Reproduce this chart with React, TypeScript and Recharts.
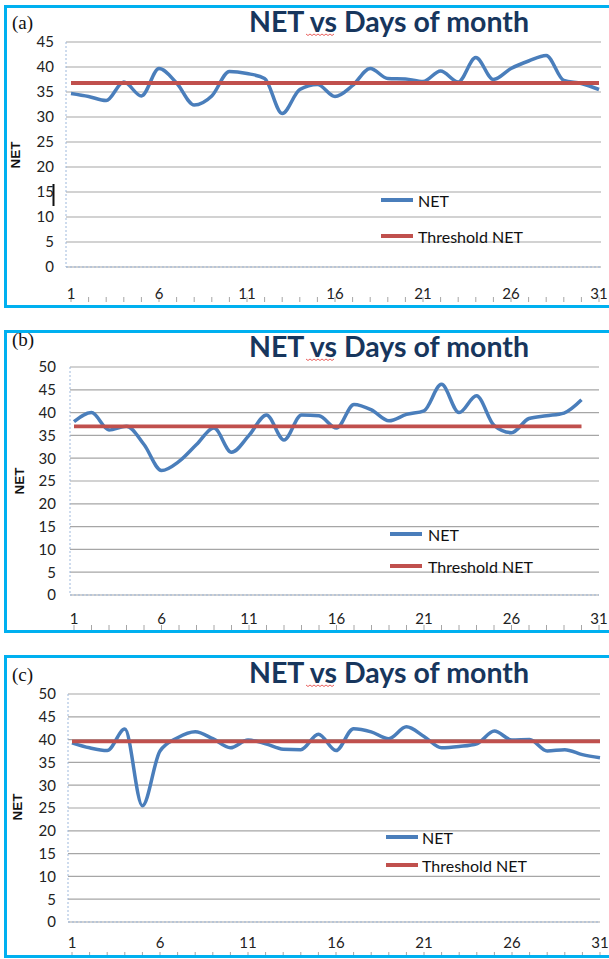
import { LineChart, Line, XAxis, YAxis, CartesianGrid, Legend } from "recharts";

// days of the month (x categories) and the labelled ones
const days = [1, 2, 3, 4, 5, 6, 7, 8, 9, 10, 11, 12, 13, 14, 15, 16, 17, 18, 19, 20, 21, 22, 23, 24, 25, 26, 27, 28, 29, 30, 31];
const labelDays = [1, 6, 11, 16, 21, 26, 31];
const ticks45 = [0, 5, 10, 15, 20, 25, 30, 35, 40, 45];
const ticks50 = [0, 5, 10, 15, 20, 25, 30, 35, 40, 45, 50];

// (a)
const netA = [34.7, 34.1, 33.3, 37.0, 34.2, 39.7, 36.8, 32.4, 34.2, 39.1, 38.7, 37.7, 30.7, 35.5, 36.5, 34.1, 36.3, 39.7, 37.7, 37.6, 37.1, 39.2, 37.0, 41.9, 37.5, 39.7, 41.2, 42.3, 37.3, 36.7, 35.5];
const thresholdA = 36.8;

// (b) - only 30 days recorded
const netB = [38.0, 40.0, 36.2, 37.0, 33.0, 27.3, 29.3, 33.0, 36.6, 31.3, 35.0, 39.5, 34.0, 39.5, 39.3, 36.6, 41.8, 40.6, 38.2, 39.6, 40.4, 46.2, 40.0, 43.7, 37.2, 35.6, 38.7, 39.3, 39.9, 42.8];
const thresholdB = 37.0;

// (c)
const netC = [39.3, 38.2, 37.6, 42.3, 25.5, 37.5, 40.4, 41.7, 40.2, 38.2, 39.9, 39.1, 37.9, 37.8, 41.2, 37.6, 42.4, 41.7, 40.2, 42.8, 40.7, 38.2, 38.5, 39.1, 41.9, 39.9, 40.0, 37.5, 37.8, 36.7, 36.0];
const thresholdC = 39.6;

const BLUE = "#4A7EBB";
const RED = "#C0504D";
const GRID = "#a6a6a6";
const FRAME = "#9DB8DC";
const CYAN = "#00B0F0";
const FONT = "Lato, 'Open Sans', sans-serif";

const buildRows = (net: number[], threshold: number) =>
  days.map((day, i) => ({
    day,
    net: i < net.length ? net[i] : null,
    threshold: i < net.length ? threshold : null,
  }));

type PanelProps = {
  top: number;
  height: number;
  data: any[];
  margin: { top: number; right: number; left: number; bottom: number };
  pad: { left: number; right: number };
  yMax: number;
  yTicks: number[];
  yWidth: number;
  yTickMargin: number;
  xTickMargin: number;
  legendLeft: number;
  legendTop: number;
  rowH: number;
  gap: number;
};

function NetPanel(p: PanelProps) {
  const renderLegend = (props: any) => (
    <div>
      {(props.payload || []).map((item: any) => (
        <div key={item.value} style={{ display: "flex", alignItems: "center", height: p.rowH }}>
          <span style={{ display: "inline-block", width: 32, height: 4, background: item.color, marginRight: p.gap }} />
          <span style={{ fontFamily: FONT, fontSize: 16, color: "#111" }}>{item.value}</span>
        </div>
      ))}
    </div>
  );

  return (
    <div style={{ position: "absolute", left: 0, top: p.top }}>
      <LineChart width={609} height={p.height} data={p.data} margin={p.margin}>
        <CartesianGrid xAxisId="ticks" vertical={false} stroke={GRID} strokeWidth={1.2} />
        <XAxis
          xAxisId="ticks"
          dataKey="day"
          type="number"
          domain={[1, 31]}
          ticks={days}
          interval={0}
          padding={p.pad}
          height={5}
          tickSize={5}
          tickLine={{ stroke: GRID }}
          axisLine={false}
          tickFormatter={() => ""}
        />
        <XAxis
          xAxisId="labels"
          dataKey="day"
          type="number"
          domain={[1, 31]}
          ticks={labelDays}
          interval={0}
          padding={p.pad}
          height={30}
          tickSize={0}
          tickMargin={p.xTickMargin}
          axisLine={{ stroke: FRAME, strokeDasharray: "2 2" }}
          tickLine={false}
          tick={{ fontFamily: FONT, fontSize: 15, fill: "#222" }}
        />
        <XAxis
          xAxisId="top"
          orientation="top"
          dataKey="day"
          type="number"
          domain={[1, 31]}
          height={0}
          tick={false}
          tickLine={false}
          axisLine={{ stroke: FRAME }}
        />
        <YAxis
          domain={[0, p.yMax]}
          ticks={p.yTicks}
          interval={0}
          width={p.yWidth}
          tickSize={0}
          tickMargin={p.yTickMargin}
          axisLine={{ stroke: FRAME, strokeDasharray: "2 2" }}
          tickLine={false}
          tick={{ fontFamily: FONT, fontSize: 15, fill: "#222" }}
        />
        <YAxis
          yAxisId="right"
          orientation="right"
          domain={[0, p.yMax]}
          width={0}
          tick={false}
          tickLine={false}
          axisLine={{ stroke: FRAME }}
        />
        <Legend
          layout="vertical"
          align="center"
          verticalAlign="middle"
          wrapperStyle={{ left: p.legendLeft, top: p.legendTop, width: 200 }}
          content={renderLegend}
        />
        <Line
          xAxisId="ticks"
          dataKey="net"
          name="NET"
          type="monotone"
          stroke={BLUE}
          strokeWidth={3.5}
          dot={false}
          isAnimationActive={false}
        />
        <Line
          xAxisId="ticks"
          dataKey="threshold"
          name="Threshold NET"
          type="linear"
          stroke={RED}
          strokeWidth={3.8}
          dot={false}
          isAnimationActive={false}
        />
      </LineChart>
    </div>
  );
}

const squiggle = (x: number, y: number, w: number) => {
  const pts: string[] = [];
  for (let i = 0; i <= w; i += 2) pts.push(`${x + i},${y + (i % 4 === 0 ? 0 : 1.5)}`);
  return <polyline points={pts.join(" ")} fill="none" stroke="#E53935" strokeWidth={0.8} />;
};

export default function App() {
  const titles = [
    { tag: "(a)", tagY: 29, titleY: 32, labelX: 15, labelY: 155, frameY: 6.5 },
    { tag: "(b)", tagY: 346, titleY: 357, labelX: 19, labelY: 481, frameY: 331.5 },
    { tag: "(c)", tagY: 681, titleY: 683, labelX: 17, labelY: 807, frameY: 656.5 },
  ];

  return (
    <div style={{ position: "absolute", left: 0, top: 0, width: 609, height: 959, overflow: "hidden", background: "#fff" }}>
      <NetPanel
        top={0}
        height={310}
        data={buildRows(netA, thresholdA)}
        margin={{ top: 42, right: 8, left: 6, bottom: 8 }}
        pad={{ left: 5, right: 2 }}
        yMax={45}
        yTicks={ticks45}
        yWidth={60}
        yTickMargin={12}
        xTickMargin={21}
        legendLeft={381}
        legendTop={182}
        rowH={36}
        gap={5}
      />
      <NetPanel
        top={320}
        height={320}
        data={buildRows(netB, thresholdB)}
        margin={{ top: 47, right: 10, left: 10, bottom: 10 }}
        pad={{ left: 4, right: 0 }}
        yMax={50}
        yTicks={ticks50}
        yWidth={60}
        yTickMargin={14}
        xTickMargin={18}
        legendLeft={390}
        legendTop={198}
        rowH={32}
        gap={6}
      />
      <NetPanel
        top={640}
        height={318}
        data={buildRows(netC, thresholdC)}
        margin={{ top: 54, right: 9, left: 8, bottom: 1 }}
        pad={{ left: 4, right: 0 }}
        yMax={50}
        yTicks={ticks50}
        yWidth={60}
        yTickMargin={12}
        xTickMargin={15}
        legendLeft={386}
        legendTop={183}
        rowH={28}
        gap={4}
      />
      <svg width={609} height={959} style={{ position: "absolute", left: 0, top: 0, pointerEvents: "none" }}>
        {titles.map((t) => (
          <g key={t.tag}>
            <rect x={5.5} y={t.frameY} width={700} height={300} fill="none" stroke={CYAN} strokeWidth={3} />
            <text x={12} y={t.tagY} fontFamily="'Liberation Serif', 'Times New Roman', serif" fontSize={19} fill="#111">
              {t.tag}
            </text>
            <text x={389} y={t.titleY} textAnchor="middle" fontFamily={FONT} fontWeight={700} fontSize={28.5} fill="#17365D">
              NET vs Days of month
            </text>
            {squiggle(306, t.titleY + 2, 28)}
            <text
              transform={`translate(${t.labelX},${t.labelY}) rotate(-90)`}
              textAnchor="middle"
              dominantBaseline="central"
              fontFamily="'Liberation Sans', Arial, sans-serif"
              fontWeight={700}
              fontSize={13.5}
              fill="#111"
            >
              NET
            </text>
          </g>
        ))}
        <rect x={52.5} y={184} width={2} height={22} fill="#111" />
      </svg>
    </div>
  );
}
